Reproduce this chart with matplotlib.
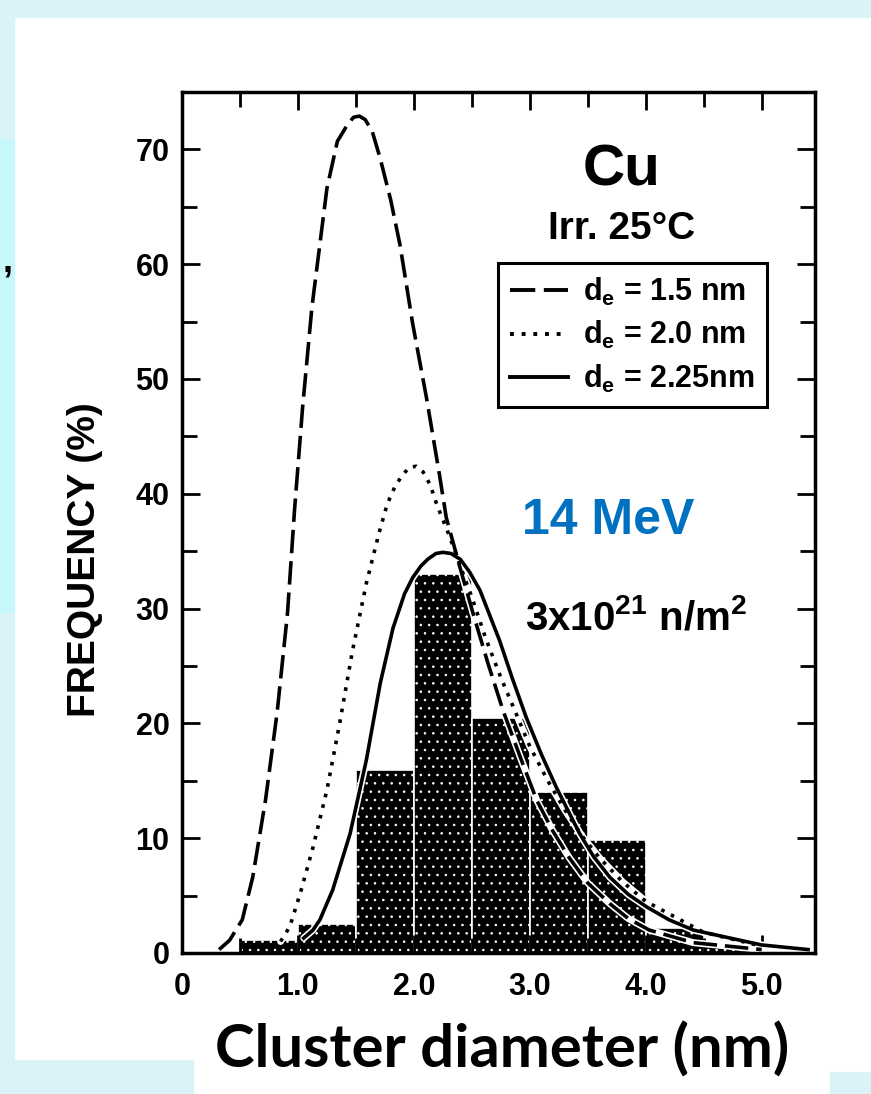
import numpy as np
import matplotlib
matplotlib.use("Agg")
import matplotlib.pyplot as plt
from matplotlib.patches import Rectangle
from matplotlib.lines import Line2D

# histogram of cluster sizes (bin left edges, width 0.5 nm)
bin_left = [0.5, 1.0, 1.5, 2.0, 2.5, 3.0, 3.5, 4.0, 4.5]
bin_freq = [1.1, 2.5, 15.9, 33.0, 20.5, 14.0, 9.8, 2.2, 0.8]

# d_e = 1.5 nm (dashed)
x_15 = [0.32, 0.41, 0.52, 0.61, 0.72, 0.82, 0.91, 0.97, 1.04, 1.12, 1.25, 1.34, 1.43, 1.48,
        1.53, 1.58, 1.64, 1.71, 1.80, 1.88, 1.99, 2.11, 2.22, 2.28, 2.40, 2.51, 2.64, 2.77,
        2.92, 3.06, 3.20, 3.34, 3.50, 3.69, 3.85, 4.03, 4.41, 5.0]
y_15 = [0.3, 1.1, 2.9, 6.6, 13.3, 20.9, 29.6, 38.5, 47.5, 56.2, 66.6, 70.7, 72.2, 72.8,
        72.9, 72.6, 71.6, 69.2, 65.6, 61.7, 54.8, 48.3, 41.7, 37.9, 33.5, 29.6, 25.2, 21.1,
        17.0, 13.3, 10.6, 8.3, 6.1, 4.3, 3.0, 2.0, 0.9, 0.3]

# d_e = 2.0 nm (dotted)
x_20 = [0.85, 0.93, 1.02, 1.13, 1.25, 1.36, 1.47, 1.59, 1.70, 1.77, 1.84, 1.90, 1.96, 2.02,
        2.08, 2.14, 2.20, 2.30, 2.40, 2.50, 2.62, 2.75, 2.88, 3.0, 3.15, 3.3, 3.45, 3.6,
        3.8, 4.0, 4.5, 5.0]
y_20 = [1.0, 2.3, 5.2, 9.2, 14.2, 20.0, 26.3, 32.2, 36.6, 39.1, 40.7, 41.6, 42.3, 42.4,
        41.9, 40.8, 39.0, 36.5, 33.7, 31.0, 27.4, 24.0, 20.9, 18.0, 15.1, 12.5, 10.2, 8.3,
        6.2, 4.5, 1.8, 0.6]

# d_e = 2.25 nm (solid)
x_225 = [1.05, 1.13, 1.19, 1.30, 1.45, 1.59, 1.71, 1.82, 1.92, 1.99, 2.06, 2.12, 2.19, 2.25,
         2.32, 2.40, 2.48, 2.57, 2.74, 2.85, 2.97, 3.10, 3.23, 3.43, 3.55, 3.69, 3.85, 4.01,
         4.20, 4.41, 5.0, 5.4]
y_225 = [1.3, 2.0, 2.9, 5.5, 10.4, 16.8, 23.5, 28.3, 31.3, 32.7, 33.7, 34.3, 34.8, 34.9,
         34.8, 34.3, 33.2, 31.6, 27.2, 23.9, 20.5, 17.3, 14.4, 10.4, 8.4, 6.6, 5.1, 4.0,
         2.9, 2.0, 0.7, 0.3]

x_ticks = [0, 1, 2, 3, 4, 5]
x_ticklabels = ["0", "1.0", "2.0", "3.0", "4.0", "5.0"]
y_ticks = [0, 10, 20, 30, 40, 50, 60, 70]
y_ticklabels = ["0", "10", "20", "30", "40", "50", "60", "70"]

plt.rcParams["font.family"] = "Liberation Sans"
plt.rcParams["font.weight"] = "bold"
plt.rcParams["mathtext.fontset"] = "custom"
plt.rcParams["mathtext.rm"] = "Liberation Sans:bold"
plt.rcParams["mathtext.bf"] = "Liberation Sans:bold"
plt.rcParams["hatch.linewidth"] = 0.6

W, H = 871, 1094
fig = plt.figure(figsize=(W / 100, H / 100), dpi=100)
fig.patch.set_facecolor("white")

# slide background strips
def px_rect(x0, y0, x1, y1, color):
    fig.patches.append(Rectangle((x0 / W, 1 - y1 / H), (x1 - x0) / W, (y1 - y0) / H,
                                 transform=fig.transFigure, color=color, zorder=0))

light = "#d9f3f7"
cyan = "#c6f8fb"
px_rect(0, 0, W, 17, light)
px_rect(0, 17, 14, 140, light)
px_rect(0, 140, 14, 613, cyan)
px_rect(0, 613, 14, H, light)
px_rect(0, 1060, 193, H, light)
px_rect(830, 1072, W, H, light)

ax = fig.add_axes([182 / W, 1 - 953 / H, (815 - 182) / W, (953 - 92) / H])
ax.set_xlim(0, 5.46)
ax.set_ylim(0, 75)

ax.bar(bin_left, bin_freq, width=0.5, align="edge", color="black",
       edgecolor="white", linewidth=1.2, hatch="..", zorder=1)

curves = [(x_15, y_15, (0, (6.5, 2.2))), (x_20, y_20, (0, (1, 2))), (x_225, y_225, "-")]
for xs, ys, ls in curves:
    ax.plot(xs, ys, color="white", lw=5, solid_capstyle="round", zorder=2)
for xs, ys, ls in curves:
    ax.plot(xs, ys, color="black", lw=2.6, linestyle=ls, zorder=3)

for s in ax.spines.values():
    s.set_linewidth(2.5)

ax.set_xticks(x_ticks, labels=x_ticklabels, fontsize=22, fontweight="bold")
ax.set_xticks(np.arange(0.5, 5.5, 1.0), minor=True)
ax.set_yticks(y_ticks, labels=y_ticklabels, fontsize=22, fontweight="bold")
ax.set_yticks(np.arange(5, 75, 10), minor=True)
ax.tick_params(which="both", direction="in", top=True, right=True, width=2)
ax.tick_params(which="major", length=13)
ax.tick_params(axis="x", which="major", pad=14)
ax.tick_params(axis="y", which="major", pad=9)
ax.tick_params(which="minor", length=11)

fig.text(85 / W, 1 - 560 / H, "FREQUENCY (%)", rotation=90, ha="center", va="center",
         fontsize=28, fontweight="bold")

handles = [Line2D([], [], color="black", lw=2.8, linestyle=ls) for _, _, ls in curves]
labels = [r"d$_\mathregular{e}$ = 1.5 nm", r"d$_\mathregular{e}$ = 2.0 nm",
          r"d$_\mathregular{e}$ = 2.25nm"]
leg = ax.legend(handles, labels, loc="upper left", bbox_to_anchor=(0.499, 0.801),
                fancybox=False, framealpha=1, edgecolor="black", handlelength=1.9,
                handletextpad=0.5, borderpad=0.4, labelspacing=0.38, borderaxespad=0,
                prop={"weight": "bold", "size": 22})
leg.get_frame().set_linewidth(2.2)

ax.text(3.79, 68.2, "Cu", ha="center", va="center", fontsize=42, fontweight="bold")
ax.text(3.79, 63.1, "Irr. 25°C", ha="center", va="center", fontsize=28, fontweight="bold")
ax.text(3.68, 37.6, "14 MeV", ha="center", va="center", fontsize=36, fontweight="bold",
        color="#0070c0")
ax.text(3.92, 29.2, r"3x10$^{21}$ n/m$^{2}$", ha="center", va="center", fontsize=29,
        fontweight="bold")

fig.text(502 / W, 1 - 1050 / H, "Cluster diameter (nm)", ha="center", va="center",
         fontsize=43, fontweight="bold", family="Lato")
fig.text(8 / W, 1 - 262 / H, ",", ha="center", va="center", fontsize=26, fontweight="bold")

fig.savefig("out.png", dpi=100)
